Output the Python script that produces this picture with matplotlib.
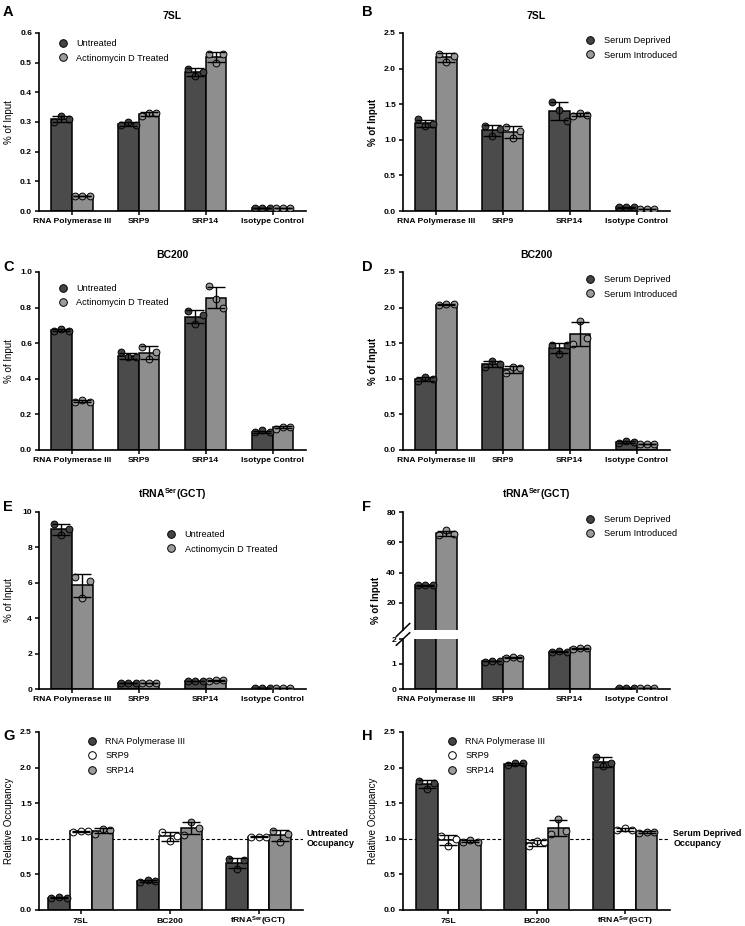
import numpy as np
import matplotlib.pyplot as plt
from matplotlib.lines import Line2D
from matplotlib.ticker import FormatStrFormatter
from matplotlib.transforms import ScaledTranslation

plt.rcParams['font.family'] = ['Liberation Sans', 'DejaVu Sans']
plt.rcParams['mathtext.fontset'] = 'custom'
plt.rcParams['mathtext.rm'] = 'Liberation Sans'
plt.rcParams['mathtext.default'] = 'regular'

targets = ["RNA Polymerase III", "SRP9", "SRP14", "Isotype Control"]
rnas = ["7SL", "BC200", "tRNA$^{Ser}$(GCT)"]

# % of input, three replicates per target (A, C, E: untreated vs actinomycin D)
a_untreated = [[0.30, 0.32, 0.31], [0.29, 0.30, 0.29], [0.48, 0.455, 0.47], [0.01, 0.01, 0.01]]
a_actd = [[0.05, 0.05, 0.05], [0.32, 0.33, 0.33], [0.53, 0.50, 0.53], [0.01, 0.01, 0.01]]
c_untreated = [[0.67, 0.68, 0.67], [0.55, 0.52, 0.52], [0.78, 0.71, 0.76], [0.10, 0.11, 0.10]]
c_actd = [[0.27, 0.28, 0.27], [0.58, 0.51, 0.55], [0.92, 0.85, 0.80], [0.12, 0.13, 0.13]]
e_untreated = [[9.34, 8.72, 9.04], [0.35, 0.35, 0.35], [0.45, 0.48, 0.45], [0.05, 0.05, 0.05]]
e_actd = [[6.33, 5.14, 6.09], [0.35, 0.35, 0.35], [0.45, 0.50, 0.50], [0.05, 0.05, 0.05]]

# B, D, F: serum deprived vs serum introduced
b_deprived = [[1.29, 1.19, 1.22], [1.20, 1.05, 1.15], [1.53, 1.42, 1.27], [0.05, 0.06, 0.05]]
b_introduced = [[2.21, 2.09, 2.17], [1.18, 1.02, 1.12], [1.33, 1.38, 1.35], [0.03, 0.03, 0.03]]
d_deprived = [[0.97, 1.03, 1.00], [1.16, 1.25, 1.21], [1.47, 1.35, 1.47], [0.10, 0.12, 0.11]]
d_introduced = [[2.03, 2.05, 2.05], [1.08, 1.17, 1.15], [1.49, 1.81, 1.58], [0.08, 0.08, 0.08]]
f_deprived = [[31.5, 32.0, 31.5], [1.10, 1.13, 1.12], [1.47, 1.52, 1.49], [0.06, 0.06, 0.06]]
f_introduced = [[64.5, 67.8, 65.5], [1.26, 1.27, 1.26], [1.60, 1.64, 1.64], [0.05, 0.05, 0.05]]

# relative occupancy (G: actinomycin D / untreated, H: introduced / deprived)
g_pol3 = [[0.17, 0.18, 0.17], [0.40, 0.42, 0.41], [0.71, 0.58, 0.70]]
g_srp9 = [[1.10, 1.11, 1.11], [1.10, 0.97, 1.04], [1.02, 1.03, 1.03]]
g_srp14 = [[1.07, 1.14, 1.13], [1.06, 1.23, 1.15], [1.11, 0.96, 1.07]]
h_pol3 = [[1.81, 1.70, 1.78], [2.04, 2.06, 2.06], [2.15, 2.02, 2.07]]
h_srp9 = [[1.04, 0.90, 1.00], [0.90, 0.97, 0.96], [1.12, 1.15, 1.12]]
h_srp14 = [[0.96, 0.98, 0.96], [1.07, 1.28, 1.11], [1.08, 1.10, 1.10]]

DARK, LIGHT = '#4b4b4b', '#8e8e8e'
DOT_DARK, DOT_LIGHT = '#444444', '#9c9c9c'
TICK_FS = 6.1

W, H = 745, 926
fig = plt.figure(figsize=(W / 100, H / 100), dpi=100)


def px_axes(x0, y0, x1, y1):
    return fig.add_axes([x0 / W, 1 - y1 / H, (x1 - x0) / W, (y1 - y0) / H])


def draw_bars(ax, series_list, bar_colors, dot_colors, width, spread, ymin=None):
    n = len(series_list)
    for k in range(n):
        off = (k - (n - 1) / 2) * width
        for i, pts in enumerate(series_list[k]):
            pts = np.array(pts)
            x = i + off
            m = pts.mean()
            sd = pts.std(ddof=1)
            ax.bar(x, m, width, color=bar_colors[k], edgecolor='black', linewidth=1.1, zorder=2)
            if ymin is not None and m < ymin:
                continue
            ax.scatter(x + spread * np.array([-1, 0, 1]), pts, s=24, color=dot_colors[k],
                       edgecolors='black', linewidths=0.7, zorder=3)
            ax.errorbar(x, m, yerr=sd, color='black', capsize=6.5, elinewidth=1.0,
                        capthick=1.0, zorder=4)


def style(ax, xlim, ylim, yticks, fmt):
    ax.set_xlim(*xlim)
    ax.set_ylim(*ylim)
    ax.set_yticks(yticks)
    ax.yaxis.set_major_formatter(FormatStrFormatter(fmt))
    for s in ['top', 'right']:
        ax.spines[s].set_visible(False)
    for s in ['left', 'bottom']:
        ax.spines[s].set_linewidth(1.2)
    ax.tick_params(axis='both', direction='out', length=3, width=1.1, labelsize=TICK_FS, pad=2)
    for lab in ax.get_xticklabels() + ax.get_yticklabels():
        lab.set_fontweight('bold')


def add_legend(ax, labels, colors, x, y):
    handles = [Line2D([], [], marker='o', ls='none', markerfacecolor=c, markeredgecolor='black',
                      markersize=5.5, markeredgewidth=0.7) for c in colors]
    ax.legend(handles, labels, loc='upper left', bbox_to_anchor=(x, y), frameon=False,
              fontsize=6.6, handlelength=1.0, handletextpad=0.95, labelspacing=0.6,
              borderpad=0, borderaxespad=0)


def panel_letter(letter, x, y):
    fig.text(x / W, 1 - y / H, letter, fontsize=10.5, fontweight='bold', ha='left', va='center')


def two_cond_panel(box, title, s1, s2, labels, ytop, ystep, fmt, leg_xy, ylab_bold):
    ax = px_axes(*box)
    draw_bars(ax, [s1, s2], [DARK, LIGHT], [DOT_DARK, DOT_LIGHT], 0.31, 0.11)
    ax.set_xticks(range(len(targets)))
    ax.set_xticklabels(targets)
    style(ax, (-0.49, 3.5), (0, ytop), np.arange(0, ytop + ystep / 2, ystep), fmt)
    ax.set_title(title, fontsize=7.5, fontweight='bold', pad=10)
    ax.set_ylabel("% of Input", fontsize=7, fontweight='bold' if ylab_bold else 'normal')
    ax.yaxis.set_label_coords(-25 / (box[2] - box[0]), 0.5)
    add_legend(ax, labels, [DOT_DARK, DOT_LIGHT], *leg_xy)
    return ax


act = ["Untreated", "Actinomycin D Treated"]
ser = ["Serum Deprived", "Serum Introduced"]
trna_title = "tRNA$^{Ser}$(GCT)"

two_cond_panel((39, 33, 306, 211), "7SL", a_untreated, a_actd, act, 0.6, 0.1, '%.1f', (0.073, 0.966), False)
two_cond_panel((403, 33, 670, 211), "7SL", b_deprived, b_introduced, ser, 2.5, 0.5, '%.1f', (0.684, 0.983), True)
two_cond_panel((39, 272, 306, 450), "BC200", c_untreated, c_actd, act, 1.0, 0.2, '%.1f', (0.073, 0.933), False)
two_cond_panel((403, 272, 670, 450), "BC200", d_deprived, d_introduced, ser, 2.5, 0.5, '%.1f', (0.684, 0.983), True)
two_cond_panel((39, 512, 306, 689), trna_title, e_untreated, e_actd, act, 10, 2, '%d', (0.478, 0.898), False)

# F: broken y axis
f_top = px_axes(403, 512, 670, 630)
f_bot = px_axes(403, 639, 670, 689)
draw_bars(f_top, [f_deprived, f_introduced], [DARK, LIGHT], [DOT_DARK, DOT_LIGHT], 0.31, 0.11, ymin=2)
draw_bars(f_bot, [f_deprived, f_introduced], [DARK, LIGHT], [DOT_DARK, DOT_LIGHT], 0.31, 0.11)
for ax in (f_top, f_bot):
    ax.set_xticks(range(len(targets)))
    ax.set_xticklabels(targets)
style(f_top, (-0.49, 3.5), (2, 80), [20, 40, 60, 80], '%d')
style(f_bot, (-0.49, 3.5), (0, 2), [0, 1, 2], '%d')
f_top.spines['bottom'].set_visible(False)
f_top.tick_params(axis='x', bottom=False, labelbottom=False)
f_top.set_title(trna_title, fontsize=7.5, fontweight='bold', pad=10)
add_legend(f_top, ser, [DOT_DARK, DOT_LIGHT], 0.684, 0.975)
fig.text(376 / W, 1 - 600 / H, "% of Input", rotation=90, fontsize=7, fontweight='bold',
         ha='center', va='center')
d = 0.025
f_top.plot([-d, d], [-d * 2.2, d * 2.2], transform=f_top.transAxes, color='black', lw=1.1, clip_on=False)
f_bot.plot([-d, d], [1 - d * 5, 1 + d * 5], transform=f_bot.transAxes, color='black', lw=1.1, clip_on=False)


def occupancy_panel(box, s1, s2, s3, xlim, leg_xy, ref_label):
    ax = px_axes(*box)
    draw_bars(ax, [s1, s2, s3], [DARK, 'white', LIGHT], [DOT_DARK, 'white', DOT_LIGHT], 0.245, 0.085)
    ax.axhline(1.0, color='black', lw=0.8, ls=(0, (3, 2)), zorder=1)
    ax.set_xticks(range(len(rnas)))
    ax.set_xticklabels(rnas)
    style(ax, xlim, (0, 2.5), np.arange(0, 2.51, 0.5), '%.1f')
    shift = ScaledTranslation(0, -4.6 / 72, fig.dpi_scale_trans)
    for lab in ax.get_xticklabels():
        lab.set_verticalalignment('baseline')
        lab.set_transform(lab.get_transform() + shift)
    ax.set_ylabel("Relative Occupancy", fontsize=7)
    ax.yaxis.set_label_coords(-25 / (box[2] - box[0]), 0.5)
    ax.text(1.012, 1.0, ref_label, transform=ax.get_yaxis_transform(), fontsize=6.4,
            fontweight='bold', ha='left', va='center', linespacing=1.2)
    add_legend(ax, ["RNA Polymerase III", "SRP9", "SRP14"], [DOT_DARK, 'white', DOT_LIGHT], *leg_xy)
    return ax


occupancy_panel((39, 732, 303, 910), g_pol3, g_srp9, g_srp14, (-0.47, 2.5), (0.184, 0.972),
                "Untreated\nOccupancy")
occupancy_panel((403, 732, 670, 910), h_pol3, h_srp9, h_srp14, (-0.515, 2.51), (0.167, 0.972),
                "Serum Deprived\nOccupancy")

for letter, x, y in [("A", 3, 12), ("B", 362, 12), ("C", 3, 267), ("D", 362, 267),
                     ("E", 3, 507), ("F", 362, 507), ("G", 3, 736), ("H", 362, 736)]:
    panel_letter(letter, x, y)

fig.savefig("out.png", dpi=100)
